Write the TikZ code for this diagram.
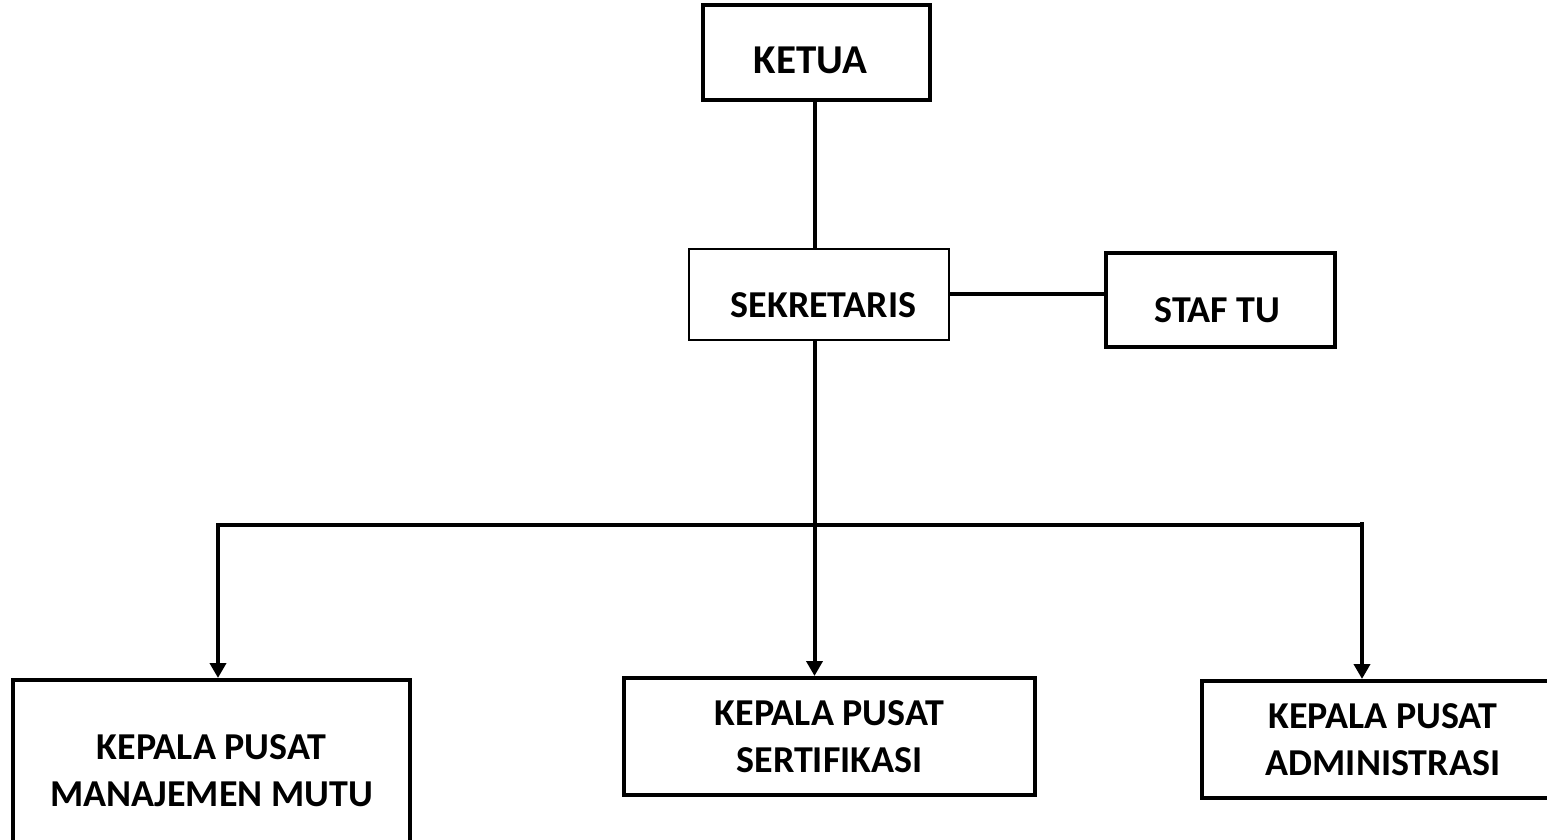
\documentclass[tikz,border=0pt]{standalone}
\usepackage{fontspec}
\setmainfont{Carlito}
\usetikzlibrary{arrows.meta}
\begin{document}
\begin{tikzpicture}[x=1pt,y=1pt,
  box/.style={draw=black,line width=4pt,fill=white,inner sep=0pt,align=center,
    font=\bfseries\fontsize{38}{47}\selectfont},
  conn/.style={line width=4pt},
  arr/.style={line width=4pt,-{Triangle[width=16pt,length=15pt]}}]
\clip (0,0) rectangle (1547,839);
\fill[white] (0,0) rectangle (1547,839);
% nodes
\node[box,minimum width=227,minimum height=95,font=\bfseries\fontsize{41}{46}\selectfont] (ketua) at (816.5,786.5) {\raisebox{-21pt}[0pt][0pt]{\hspace*{-12pt}KETUA}};
\node[box,line width=2pt,minimum width=260,minimum height=91] (sek) at (819,544.5) {\raisebox{-23.5pt}[0pt][0pt]{\hspace*{9pt}SEKRETARIS}};
\node[box,minimum width=229,minimum height=94] (staf) at (1220.5,539) {\raisebox{-23pt}[0pt][0pt]{\hspace*{-6pt}STAF TU}};
\node[box,minimum width=397,minimum height=182] (left) at (211.5,68) {KEPALA PUSAT\\MANAJEMEN MUTU};
\node[box,minimum width=411,minimum height=117] (cen) at (829.5,102.5) {KEPALA PUSAT\\SERTIFIKASI};
\node[box,minimum width=362,minimum height=117] (right) at (1383,99.5) {KEPALA PUSAT\\ADMINISTRASI};
% coordinates
\coordinate (spine) at (814.5,0);
\coordinate (barL) at (218,314);
\coordinate (barR) at (1362,314);
\coordinate (barRtop) at (1362,317);
% connectors
\draw[conn] (ketua.south -| spine) -- (sek.north -| spine);
\draw[conn] (sek.east) -- (sek.east -| staf.west);
\draw[arr] (sek.south -| spine) -- (cen.north -| spine);
\draw[conn,line cap=rect] (barL) -- (barR);
\draw[arr] (barL) -- (left.north -| barL);
\draw[arr] (barRtop) -- (right.north -| barRtop);
\end{tikzpicture}
\end{document}
